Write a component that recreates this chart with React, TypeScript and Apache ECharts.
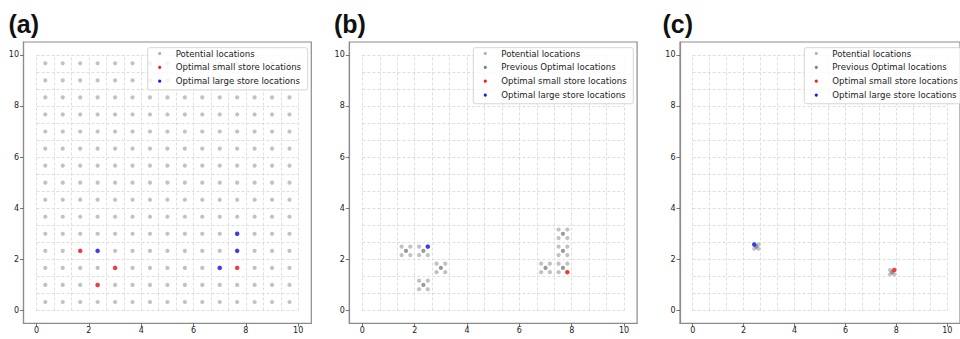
import React, { useEffect, useRef } from 'react';
import * as echarts from 'echarts';

// ---------- data ----------
const panelTitles = ['(a)', '(b)', '(c)'];
const tickValues = [0, 2, 4, 6, 8, 10];
// centres of the candidate grid in panel (a)
const gridCenters = [0.333, 1.0, 1.667, 2.333, 3.0, 3.667, 4.333, 5.0, 5.667, 6.333, 7.0, 7.667, 8.333, 9.0, 9.667];
// dashed cell boundaries
const cellBoundaries = [0, 0.667, 1.333, 2.0, 2.667, 3.333, 4.0, 4.667, 5.333, 6.0, 6.667, 7.333, 8.0, 8.667, 9.333, 10.0];

// panel (a)
const optimalSmallA = [[1.667, 2.333], [3.0, 1.667], [2.333, 1.0], [7.667, 1.667]];
const optimalLargeA = [[2.333, 2.333], [7.0, 1.667], [7.667, 2.333], [7.667, 3.0]];

// panel (b)
const previousOptimalB = [
  [1.667, 2.333], [2.333, 2.333], [3.0, 1.667], [2.333, 1.0],
  [7.0, 1.667], [7.667, 1.667], [7.667, 2.333], [7.667, 3.0],
];
const potentialB = [
  [1.5, 2.167], [1.5, 2.5], [1.833, 2.167], [1.833, 2.5],
  [2.167, 2.167], [2.167, 2.5], [2.5, 2.167], [2.5, 2.5],
  [2.833, 1.5], [2.833, 1.833], [3.167, 1.5], [3.167, 1.833],
  [2.167, 0.833], [2.167, 1.167], [2.5, 0.833], [2.5, 1.167],
  [6.833, 1.5], [6.833, 1.833], [7.167, 1.5], [7.167, 1.833],
  [7.5, 1.5], [7.5, 1.833], [7.833, 1.5], [7.833, 1.833],
  [7.5, 2.167], [7.5, 2.5], [7.833, 2.167], [7.833, 2.5],
  [7.5, 2.833], [7.5, 3.167], [7.833, 2.833], [7.833, 3.167],
];
const optimalSmallB = [[7.833, 1.5]];
const optimalLargeB = [[2.5, 2.5]];

// panel (c)
const previousOptimalC = [[2.5, 2.5], [7.833, 1.5]];
const potentialC = [
  [2.417, 2.417], [2.417, 2.583], [2.583, 2.417], [2.583, 2.583],
  [7.75, 1.417], [7.75, 1.583], [7.917, 1.417], [7.917, 1.583],
];
const optimalSmallC = [[7.917, 1.583]];
const optimalLargeC = [[2.417, 2.583]];

const NAME_POT = 'Potential locations';
const NAME_PREV = 'Previous Optimal locations';
const NAME_SMALL = 'Optimal small store locations';
const NAME_LARGE = 'Optimal large store locations';

// ---------- styles ----------
const COL_POT = '#b3b3b3';
const COL_PREV = '#7f7f7f';
const COL_SMALL = '#ff1a1a';
const COL_LARGE = '#1a1aff';
const SPINE = '#8c8c8c';
const FONT = 'DejaVu Sans';

const panelLefts = [23.5, 349.3, 680];
const panelWidth = 287.8;
const panelTop = 42;
const panelHeight = 281.3;
const titleX = [8.5, 334, 662.5];
const legendLefts = [147.7, 473.3, 804.3];
const legendTop = 47.7;
const legendWidth = 160;
const legendRowPitch = 13.85;
const legendFirstRow = 53.5;

export default function App() {
  const ref = useRef<HTMLDivElement>(null);

  useEffect(() => {
    document.body.style.margin = '0';
    if (!ref.current) return;
    const chart = echarts.init(ref.current, undefined, { renderer: 'svg' });

    const potentialA: number[][] = [];
    gridCenters.forEach((x) => gridCenters.forEach((y) => potentialA.push([x, y])));

    const gridLineData = [
      ...cellBoundaries.map((v) => ({ coords: [[v, 0], [v, 10]] })),
      ...cellBoundaries.map((v) => ({ coords: [[0, v], [10, v]] })),
    ];

    const panels = [
      { pot: potentialA, prev: null as number[][] | null, small: optimalSmallA, large: optimalLargeA },
      { pot: potentialB, prev: previousOptimalB, small: optimalSmallB, large: optimalLargeB },
      { pot: potentialC, prev: previousOptimalC, small: optimalSmallC, large: optimalLargeC },
    ];

    const grids: any[] = [];
    const xAxes: any[] = [];
    const yAxes: any[] = [];
    const series: any[] = [];
    const graphics: any[] = [];

    const axisCommon = (i: number, isX: boolean) => ({
      type: 'value',
      gridIndex: i,
      min: -0.5,
      max: 10.5,
      splitLine: { show: false },
      axisLine: { show: true, onZero: false, lineStyle: { color: SPINE, width: 1.2 } },
      axisTick: { show: true, length: 3.5, customValues: tickValues, lineStyle: { color: '#555', width: 0.8 } },
      axisLabel: { customValues: tickValues, fontSize: 8, color: '#222', margin: isX ? 3 : 4.5, fontFamily: FONT },
    });

    panels.forEach((p, i) => {
      grids.push({
        left: panelLefts[i],
        top: panelTop,
        width: panelWidth,
        height: panelHeight,
        show: true,
        borderColor: SPINE,
        borderWidth: 1.2,
        backgroundColor: 'transparent',
        containLabel: false,
      });
      xAxes.push(axisCommon(i, true));
      yAxes.push(axisCommon(i, false));

      series.push({
        type: 'lines',
        coordinateSystem: 'cartesian2d',
        xAxisIndex: i,
        yAxisIndex: i,
        silent: true,
        z: 1,
        lineStyle: { color: '#d6d6d6', width: 0.8, type: [3, 2], opacity: 1 },
        data: gridLineData,
      });
      series.push({
        type: 'scatter', name: NAME_POT, xAxisIndex: i, yAxisIndex: i, z: 2,
        symbol: 'circle', symbolSize: 4.2, itemStyle: { color: COL_POT }, data: p.pot,
      });
      if (p.prev) {
        series.push({
          type: 'scatter', name: NAME_PREV, xAxisIndex: i, yAxisIndex: i, z: 3,
          symbol: 'circle', symbolSize: 4.2, itemStyle: { color: COL_PREV }, data: p.prev,
        });
      }
      series.push({
        type: 'scatter', name: NAME_SMALL, xAxisIndex: i, yAxisIndex: i, z: 4,
        symbol: 'circle', symbolSize: 4.5, itemStyle: { color: COL_SMALL }, data: p.small,
      });
      series.push({
        type: 'scatter', name: NAME_LARGE, xAxisIndex: i, yAxisIndex: i, z: 5,
        symbol: 'circle', symbolSize: 4.5, itemStyle: { color: COL_LARGE }, data: p.large,
      });

      // legend box (drawn as graphic for exact placement)
      const entries = p.prev
        ? [[NAME_POT, COL_POT], [NAME_PREV, COL_PREV], [NAME_SMALL, COL_SMALL], [NAME_LARGE, COL_LARGE]]
        : [[NAME_POT, COL_POT], [NAME_SMALL, COL_SMALL], [NAME_LARGE, COL_LARGE]];
      const lx = legendLefts[i];
      const boxH = (legendFirstRow - legendTop) + (entries.length - 1) * legendRowPitch + 8.7;
      graphics.push({
        type: 'rect',
        z: 100,
        shape: { x: lx, y: legendTop, width: legendWidth, height: boxH, r: 2 },
        style: { fill: 'rgba(255,255,255,0.8)', stroke: '#cccccc', lineWidth: 0.8 },
      });
      entries.forEach(([name, color], k) => {
        const cy = legendFirstRow + k * legendRowPitch;
        graphics.push({
          type: 'circle',
          z: 101,
          shape: { cx: lx + 12, cy, r: 1.6 },
          style: { fill: color },
        });
        graphics.push({
          type: 'text',
          z: 101,
          x: lx + 28,
          y: cy,
          style: {
            text: name,
            font: `8.6px "${FONT}"`,
            fill: '#222',
            textVerticalAlign: 'middle',
          },
        });
      });

      graphics.push({
        type: 'text',
        z: 100,
        x: titleX[i],
        y: 24,
        style: {
          text: panelTitles[i],
          font: 'bold 25px "Liberation Sans"',
          fill: '#111',
          textVerticalAlign: 'middle',
        },
      });
    });

    chart.setOption({
      animation: false,
      backgroundColor: '#ffffff',
      grid: grids,
      xAxis: xAxes,
      yAxis: yAxes,
      series,
      graphic: graphics,
    });

    return () => chart.dispose();
  }, []);

  return (
    <div
      ref={ref}
      style={{ position: 'absolute', left: 0, top: 0, width: 960, height: 339, overflow: 'hidden' }}
    />
  );
}
